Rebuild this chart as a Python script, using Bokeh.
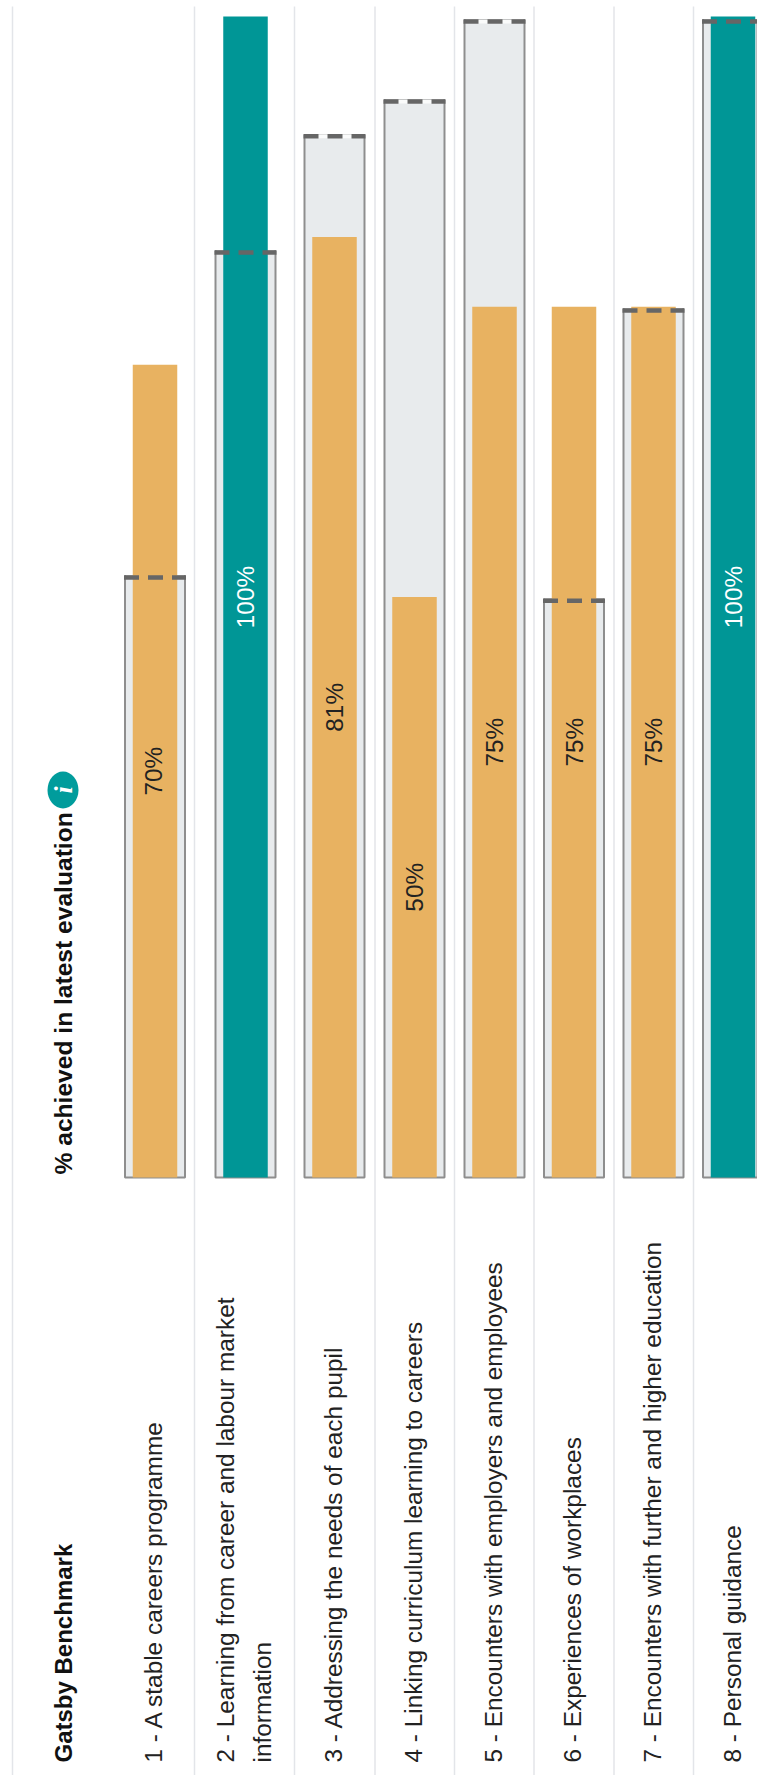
from math import pi
from bokeh.plotting import figure
from bokeh.models import ColumnDataSource
from bokeh.core.properties import value
from bokeh.embed import file_html
from bokeh.resources import INLINE

# ---- data ----
benchmarks = ["1 - A stable careers programme",
              "2 - Learning from career and labour market",
              "3 - Addressing the needs of each pupil",
              "4 - Linking curriculum learning to careers",
              "5 - Encounters with employers and employees",
              "6 - Experiences of workplaces",
              "7 - Encounters with further and higher education",
              "8 - Personal guidance"]
achieved = [70, 100, 81, 50, 75, 75, 75, 100]
comparison = [51.8, 79.8, 89.8, 92.8, 99.7, 49.8, 74.8, 99.7]
header_left = "Gatsby Benchmark"
header_right = "% achieved in latest evaluation"

# ---- layout ----
FONT = value("Liberation Sans")
TXT = 24.4
centers = [154.5, 245, 334, 414, 494, 573.5, 653, 732.5]
label_x = [153, 224.5, 333, 413, 492.5, 572, 652, 732]
grid_x = [12, 194, 294, 374.5, 454, 533.5, 613.5, 693]
PX = 11.61         # pixels per value unit
BASE = 1177        # page y of value 0
W, H = 757, 1775
OFF = 585

p = figure(width=W, height=H, output_backend="svg", toolbar_location=None,
           x_range=(0, 757), y_range=((BASE - 1775) / PX, BASE / PX),
           min_border=0, min_border_left=0, min_border_right=0,
           min_border_top=0, min_border_bottom=0, outline_line_color=None)
p.axis.visible = False
p.grid.visible = False
p.background_fill_color = "#ffffff"

y0, y1 = p.y_range.start, (BASE - 6) / PX
p.segment(x0=grid_x, x1=grid_x, y0=[y0] * 8, y1=[y1] * 8, line_color="#E3E5E9", line_width=1.5)

# comparison bars
p.vbar(x=centers, top=comparison, bottom=[0] * 8, width=60, fill_color="#E8EBED",
       line_color="#8E8E8E", line_width=2)

# light band below the top edge of each comparison bar
x_l = [c - 31 for c in centers]
x_r = [c + 31 for c in centers]
drop = [v - 1.4 / PX for v in comparison]
p.segment(x0=[c - 29 for c in centers], x1=[c + 29 for c in centers], y0=drop, y1=drop,
          line_color="#FAFBFB", line_width=4)

# achieved bars
colors = ["#009696" if a == 100 else "#E8B261" for a in achieved]
p.vbar(x=centers, top=achieved, bottom=[0] * 8, width=44.5, fill_color=colors, line_color=None)

# dashed comparison marker
p.segment(x0=x_l, x1=x_r, y0=drop, y1=drop, line_color="#666666",
          line_width=4.5, line_dash="15 9")

# value labels
src = ColumnDataSource(dict(x=label_x[:1] + centers[1:], y=[a / 2 for a in achieved],
                            t=[f"{a}%" for a in achieved],
                            c=["#ffffff" if a == 100 else "#222222" for a in achieved]))
p.text(x="x", y="y", text="t", source=src, angle=pi / 2, text_color="c", text_font=FONT,
       text_font_size=f"{TXT}px", text_align="center", text_baseline="middle")

# row labels
p.text(x=label_x, y=[0] * 8, text=benchmarks, angle=pi / 2, y_offset=OFF, text_color="#222222",
       text_font=FONT, text_font_size=f"{TXT}px", text_align="left", text_baseline="middle")
p.text(x=[262], y=[0], text=["information"], angle=pi / 2, y_offset=OFF, text_color="#222222",
       text_font=FONT, text_font_size=f"{TXT}px", text_align="left", text_baseline="middle")

# headers
p.text(x=[62.5], y=[0], text=[header_left], angle=pi / 2, y_offset=OFF, text_color="#111111",
       text_font=FONT, text_font_style="bold", text_font_size="24px",
       text_align="left", text_baseline="middle")
p.text(x=[62.5], y=[0], text=[header_right], angle=pi / 2, y_offset=-3, text_color="#111111",
       text_font=FONT, text_font_style="bold", text_font_size="24.6px",
       text_align="left", text_baseline="middle")

# info icon
ICON_Y = (BASE - 789.5) / PX
p.ellipse(x=[62.5], y=[ICON_Y], width=31, height=37, width_units="screen", height_units="screen",
          fill_color="#009C9C", line_color=None)
p.text(x=[62.5], y=[ICON_Y], text=["i"], angle=pi / 2, text_color="#ffffff",
       text_font=value("Liberation Serif"), text_font_style="bold italic", text_font_size="26px",
       text_align="center", text_baseline="middle")

open("out.html", "w").write(file_html(p, INLINE))
